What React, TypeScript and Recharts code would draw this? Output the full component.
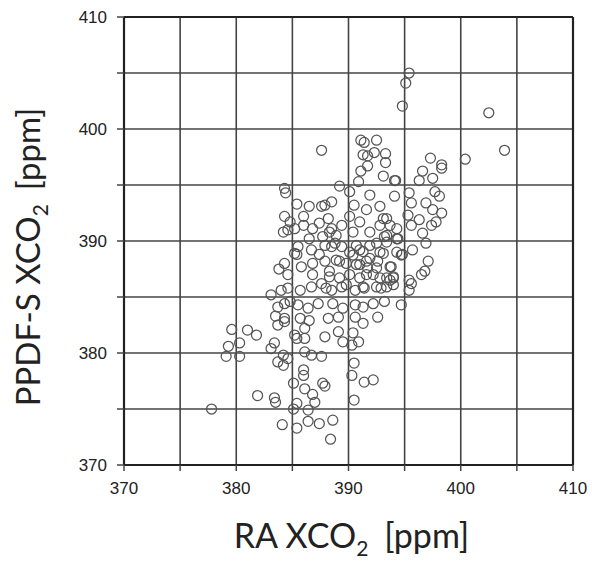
import React from 'react';
import { ScatterChart, Scatter, XAxis, YAxis, CartesianGrid, Label } from 'recharts';

// RA XCO2 (x) and PPDF-S XCO2 (y), ppm
const raXco2 = [
  395.4, 395.1, 394.8, 402.5, 387.6, 403.9, 400.4, 397.3, 398.3, 398.3, 396.6, 396.3, 397.5,
  391.1, 391.4, 392.5, 391.3, 391.7, 392.3, 393.3, 393.3, 391.7, 391.1, 393.1, 394.2, 390.9, 389.2, 384.3,
  384.4, 385.4, 386.0, 386.5, 387.6, 388.5, 387.9, 390.1, 391.9, 390.5, 391.6, 392.8, 393.4, 384.3,
  384.2, 384.6, 385.2, 386.0, 386.8, 387.4, 388.2, 388.5, 389.4, 390.1, 391.0, 391.9, 392.8, 393.2,
  386.5, 387.7, 388.9, 385.5, 385.4, 386.7, 387.4, 388.5, 389.4, 390.1, 391.0, 391.9, 392.8,
  384.3, 385.8, 386.8, 387.9, 388.9, 389.8, 390.7, 391.6, 392.5, 384.6, 386.8, 388.3, 390.1, 391.6, 392.8,
  394.1, 397.7, 398.1, 394.1, 395.4, 395.6, 396.9, 397.5, 398.3, 397.8, 397.4, 396.3, 395.3, 395.6,
  396.6, 396.9, 395.7, 394.8, 397.1, 396.8, 396.5, 395.4, 394.0, 393.8, 393.1, 393.7, 394.3, 394.4,
  393.4, 393.1, 394.3,
  384.8, 385.2, 383.8, 383.1, 384.0, 384.6, 383.7, 384.8, 383.5, 384.3, 383.7, 379.6, 381.0,
  385.7, 386.7, 387.6, 388.5, 389.4, 390.6, 391.4, 392.5, 393.4, 394.0, 391.0,
  384.3, 385.5, 386.4, 387.3, 388.6, 389.5, 390.6, 391.3, 392.2, 393.2, 392.6,
  384.3, 385.7, 386.5, 388.2, 389.1, 390.6, 391.3, 386.1,
  385.2, 386.1, 387.9, 389.1, 389.5, 390.4, 390.9, 390.3,
  384.2, 386.1, 386.7, 387.6, 384.2,
  390.5, 386.0, 386.0, 390.3, 391.4, 392.2, 387.7, 385.1,
  395.6, 395.4, 394.7, 393.7,
  381.8, 380.3, 379.3, 379.1, 380.3, 383.4, 383.1, 383.7, 384.6, 385.4, 381.9, 383.4, 383.5,
  377.8, 385.1, 384.1, 385.4,
  386.1, 386.8, 387.9, 390.5, 385.4, 387.0, 386.4, 386.4, 387.4, 388.6, 388.4,
  390.4, 391.3, 391.9, 391.0, 391.7, 392.6, 392.2, 393.7, 393.4, 389.2, 388.3, 389.2, 387.9, 388.8,
  390.7, 392.5, 394.3, 394.7, 388.3, 390.4, 393.4, 394.0, 392.9, 391.3, 389.8, 388.0,
];

const ppdfXco2 = [
  405.0, 404.1, 402.05, 401.45, 398.1, 398.1, 397.3, 397.4, 396.8, 396.5, 396.25, 395.4, 395.6,
  399.0, 398.8, 399.0, 397.7, 397.6, 397.9, 397.8, 397.0, 396.7, 396.25, 395.8, 395.4, 395.3, 394.9, 394.7,
  394.3, 393.3, 392.2, 393.1, 393.1, 393.5, 393.2, 394.4, 394.1, 393.2, 392.8, 393.1, 392.0, 392.2,
  390.8, 391.0, 391.1, 391.4, 391.1, 391.6, 392.0, 391.1, 391.4, 392.2, 391.7, 390.8, 391.4, 390.4,
  390.2, 390.4, 390.5, 389.5, 388.8, 389.2, 388.8, 389.5, 389.5, 389.0, 389.2, 389.6, 389.0,
  388.0, 387.7, 388.0, 388.2, 388.3, 388.0, 387.9, 388.2, 387.6, 387.0, 387.0, 386.8, 387.0, 387.0, 386.7,
  395.4, 394.4, 394.0, 394.0, 394.3, 393.4, 393.4, 392.8, 392.5, 391.7, 391.4, 391.9, 392.3, 391.4,
  390.7, 389.8, 389.2, 388.8, 388.2, 387.3, 387.0, 386.5, 386.8, 387.7, 392.0, 391.4, 391.1, 390.2,
  389.9, 388.9, 389.0,
  391.7, 388.9, 387.5, 385.2, 385.6, 385.8, 384.1, 384.6, 383.3, 383.1, 382.5, 382.1, 382.05,
  385.6, 385.9, 386.2, 385.6, 385.9, 385.6, 385.8, 385.9, 385.9, 386.7, 386.7,
  384.4, 384.3, 384.0, 384.4, 384.4, 384.0, 384.3, 384.1, 384.4, 384.6, 383.2,
  382.8, 383.1, 382.9, 383.1, 383.2, 383.2, 382.65, 382.2,
  381.6, 381.3, 381.45, 381.9, 381.0, 381.8, 381.0, 380.7,
  379.8, 380.1, 379.8, 379.7, 378.9,
  379.1, 378.5, 378.0, 378.0, 377.4, 377.6, 377.3, 377.3,
  386.2, 385.6, 384.3, 386.5,
  381.6, 380.9, 380.6, 379.7, 379.7, 380.9, 380.4, 379.2, 379.5, 381.3, 376.2, 376.0, 375.6,
  375.0, 375.0, 373.6, 373.3,
  376.8, 376.3, 377.05, 375.8, 375.5, 375.6, 374.9, 373.9, 373.7, 374.0, 372.3,
  388.75, 389.05, 388.45, 387.9, 387.6, 388.2, 387.0, 387.7, 386.7, 388.2, 387.3, 386.7, 389.6, 389.8,
  389.6, 389.8, 390.2, 388.75, 390.8, 390.8, 390.5, 386.1, 385.8, 385.9, 386.1, 385.8,
];

const axisTicks = [370, 375, 380, 385, 390, 395, 400, 405, 410];
const labelledTicks = [370, 380, 390, 400, 410];

const points = raXco2.map((x, i) => ({ x, y: ppdfXco2[i] }));

const tickStyle = { fontFamily: 'Liberation Sans, Arial, sans-serif', fontSize: 17, fill: '#222' };
const showLabel = (v: number) => (labelledTicks.includes(v) ? String(v) : '');
const noLabel = () => '';

const Ring = (props: any) => {
  const { cx, cy } = props;
  if (cx == null || cy == null) return null;
  return <circle cx={cx} cy={cy} r={5} fill="none" stroke="#555" strokeWidth={1.25} />;
};

const XTitle = (props: any) => {
  const vb = props.viewBox;
  return (
    <text x={vb.x + vb.width / 2 + 3} y={vb.y + 83} textAnchor="middle" fontFamily="Lato" fontSize={34} fill="#222">
      RA XCO<tspan fontSize={21} dy={8}>2</tspan>
      <tspan dy={-8} dx={16}>[ppm]</tspan>
    </text>
  );
};

const YTitle = () => {
  const cx = 40;
  const cy = 257;
  return (
    <text x={cx} y={cy} transform={`rotate(-90, ${cx}, ${cy})`} textAnchor="middle" fontFamily="Lato" fontSize={33} fill="#222">
      PPDF-S XCO<tspan fontSize={21} dy={8}>2</tspan>
      <tspan dy={-8} dx={14}>[ppm]</tspan>
    </text>
  );
};

export default function App() {
  const axisLine = { stroke: '#222', strokeWidth: 2.2 };
  const tickLine = { stroke: '#444', strokeWidth: 1.5 };
  return (
    <div style={{ position: 'absolute', left: 0, top: 0, background: '#fff' }}>
      <ScatterChart width={592} height={563} margin={{ top: 0, right: 0, bottom: 0, left: 0 }}>
        <CartesianGrid xAxisId="b" yAxisId="l" stroke="#444" strokeWidth={1.6} />
        <XAxis
          xAxisId="b"
          dataKey="x"
          type="number"
          domain={[370, 410]}
          ticks={axisTicks}
          interval={0}
          height={98}
          axisLine={axisLine}
          tickLine={tickLine}
          tickSize={6}
          tickMargin={11}
          tick={tickStyle}
          tickFormatter={showLabel}
          allowDataOverflow
        >
          <Label content={XTitle} />
        </XAxis>
        <XAxis
          xAxisId="t"
          orientation="top"
          type="number"
          domain={[370, 410]}
          ticks={axisTicks}
          interval={0}
          height={17}
          axisLine={axisLine}
          tickLine={tickLine}
          tickSize={6}
          tick={tickStyle}
          tickFormatter={noLabel}
        />
        <YAxis
          yAxisId="l"
          dataKey="y"
          type="number"
          domain={[370, 410]}
          ticks={axisTicks}
          interval={0}
          width={124}
          axisLine={axisLine}
          tickLine={tickLine}
          tickSize={7}
          tickMargin={10}
          tick={tickStyle}
          tickFormatter={showLabel}
          allowDataOverflow
        >
          <Label content={YTitle} />
        </YAxis>
        <YAxis
          yAxisId="r"
          orientation="right"
          type="number"
          domain={[370, 410]}
          ticks={axisTicks}
          interval={0}
          width={19}
          axisLine={axisLine}
          tickLine={tickLine}
          tickSize={6}
          tick={tickStyle}
          tickFormatter={noLabel}
        />
        <Scatter xAxisId="b" yAxisId="l" data={points} shape={Ring} isAnimationActive={false} />
      </ScatterChart>
    </div>
  );
}
